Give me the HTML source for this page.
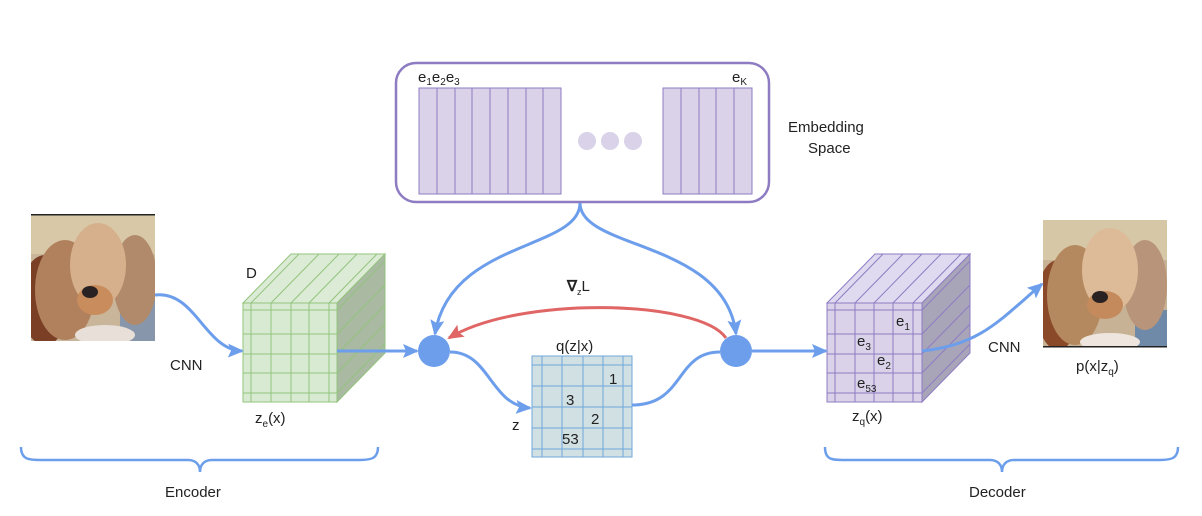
<!DOCTYPE html>
<html><head><meta charset="utf-8"><style>body{margin:0;background:#fff}svg{display:block}text{font-family:"Liberation Sans",Arial,sans-serif;fill:#222;font-size:15px}</style></head><body>
<svg width="1202" height="516" viewBox="0 0 1202 516" xmlns="http://www.w3.org/2000/svg">
<defs>
<marker id="ab" markerWidth="16" markerHeight="14" refX="14" refY="7" orient="auto" markerUnits="userSpaceOnUse"><path d="M0,0 L16,7 L0,14 L3,7 z" fill="#6d9eeb"/></marker>
<marker id="ar" markerWidth="16" markerHeight="14" refX="14" refY="7" orient="auto" markerUnits="userSpaceOnUse"><path d="M0,0 L16,7 L0,14 L3,7 z" fill="#e06666"/></marker>
<clipPath id="c1"><rect x="31" y="214" width="124" height="127"/></clipPath>
<clipPath id="c2"><rect x="1043" y="220" width="124" height="127"/></clipPath>
</defs>

<!-- Embedding box -->
<rect x="396" y="63" width="373" height="139" rx="20" fill="#fff" stroke="#8e7cc3" stroke-width="2.5"/>
<g fill="#d9d2e9" stroke="#8e7cc3" stroke-width="1">
<rect x="419" y="88" width="142" height="106"/>
<rect x="663" y="88" width="89" height="106"/>
</g>
<g stroke="#8e7cc3" stroke-width="1">
<line x1="437" y1="88" x2="437" y2="194"/><line x1="455" y1="88" x2="455" y2="194"/><line x1="472" y1="88" x2="472" y2="194"/><line x1="490" y1="88" x2="490" y2="194"/><line x1="508" y1="88" x2="508" y2="194"/><line x1="526" y1="88" x2="526" y2="194"/><line x1="543" y1="88" x2="543" y2="194"/>
<line x1="681" y1="88" x2="681" y2="194"/><line x1="699" y1="88" x2="699" y2="194"/><line x1="716" y1="88" x2="716" y2="194"/><line x1="734" y1="88" x2="734" y2="194"/>
</g>
<g fill="#d9d2e9"><circle cx="587" cy="141" r="9"/><circle cx="610" cy="141" r="9"/><circle cx="633" cy="141" r="9"/></g>
<text x="418" y="82" font-size="16">e<tspan font-size="10" dy="3">1</tspan><tspan dy="-3">e</tspan><tspan font-size="10" dy="3">2</tspan><tspan dy="-3">e</tspan><tspan font-size="10" dy="3">3</tspan></text>
<text x="732" y="82" font-size="16">e<tspan font-size="10" dy="3">K</tspan></text>
<text x="788" y="132">Embedding</text>
<text x="808" y="153">Space</text>

<!-- Dog left -->
<g clip-path="url(#c1)">
<rect x="31" y="214" width="124" height="127" fill="#c9b59a"/>
<rect x="31" y="214" width="124" height="40" fill="#d8c8a8"/>
<rect x="120" y="300" width="40" height="45" fill="#8796aa"/>
<ellipse cx="45" cy="300" rx="25" ry="45" fill="#7a3f25"/>
<ellipse cx="65" cy="290" rx="30" ry="50" fill="#b0815c"/>
<ellipse cx="135" cy="280" rx="22" ry="45" fill="#b08a6a"/>
<ellipse cx="98" cy="265" rx="28" ry="42" fill="#d6b08c"/>
<ellipse cx="95" cy="300" rx="18" ry="15" fill="#c98c5c"/>
<ellipse cx="90" cy="292" rx="8" ry="6" fill="#2a2222"/>
<ellipse cx="105" cy="335" rx="30" ry="10" fill="#e8e0d8"/>
</g>
<rect x="31" y="214" width="124" height="1.5" fill="#222"/>

<!-- Dog right -->
<g clip-path="url(#c2)">
<rect x="1043" y="220" width="124" height="127" fill="#c8b296"/>
<rect x="1043" y="220" width="124" height="40" fill="#d6c7a6"/>
<rect x="1135" y="310" width="40" height="40" fill="#6f8aa8"/>
<ellipse cx="1058" cy="305" rx="22" ry="45" fill="#8a4a2a"/>
<ellipse cx="1075" cy="295" rx="28" ry="50" fill="#b4895f"/>
<ellipse cx="1145" cy="285" rx="22" ry="45" fill="#b8957a"/>
<ellipse cx="1110" cy="270" rx="28" ry="42" fill="#ddbb98"/>
<ellipse cx="1105" cy="305" rx="18" ry="14" fill="#c48a5c"/>
<ellipse cx="1100" cy="297" rx="8" ry="6" fill="#2a2222"/>
<ellipse cx="1110" cy="342" rx="30" ry="9" fill="#eee6de"/>
</g>
<rect x="1043" y="346" width="124" height="1.5" fill="#222"/>

<!-- Green cube -->
<polygon points="243,303 291,254 385,254 337,303" fill="#dcebd5" stroke="#93c47d"/>
<polygon points="337,303 385,254 385,353 337,402" fill="#a9b9a2" stroke="#93c47d"/>
<rect x="243" y="303" width="94" height="99" fill="#d9ead3" stroke="#93c47d"/>
<g stroke="#93c47d" stroke-width="1">
<line x1="251" y1="303" x2="251" y2="402"/><line x1="271" y1="303" x2="271" y2="402"/><line x1="291" y1="303" x2="291" y2="402"/><line x1="309" y1="303" x2="309" y2="402"/><line x1="329" y1="303" x2="329" y2="402"/>
<line x1="243" y1="310" x2="337" y2="310"/><line x1="243" y1="334" x2="337" y2="334"/><line x1="243" y1="354" x2="337" y2="354"/><line x1="243" y1="373" x2="337" y2="373"/><line x1="243" y1="393" x2="337" y2="393"/>
<line x1="251" y1="303" x2="299" y2="254"/><line x1="271" y1="303" x2="319" y2="254"/><line x1="291" y1="303" x2="339" y2="254"/><line x1="309" y1="303" x2="357" y2="254"/><line x1="329" y1="303" x2="377" y2="254"/>
<line x1="337" y1="310" x2="385" y2="261"/><line x1="337" y1="334" x2="385" y2="285"/><line x1="337" y1="354" x2="385" y2="305"/><line x1="337" y1="373" x2="385" y2="324"/><line x1="337" y1="393" x2="385" y2="344"/>
</g>
<text x="246" y="278" font-size="16">D</text>
<text x="255" y="423" font-size="16">z<tspan font-size="10" dy="4">e</tspan><tspan dy="-4">(x)</tspan></text>

<!-- Purple cube -->
<polygon points="827,303 875,254 970,254 922,303" fill="#e0daf0" stroke="#8e7cc3"/>
<polygon points="922,303 970,254 970,353 922,402" fill="#a9a5b8" stroke="#8e7cc3"/>
<rect x="827" y="303" width="95" height="99" fill="#d9d2e9" stroke="#8e7cc3"/>
<g stroke="#8e7cc3" stroke-width="1">
<line x1="835" y1="303" x2="835" y2="402"/><line x1="855" y1="303" x2="855" y2="402"/><line x1="874" y1="303" x2="874" y2="402"/><line x1="893" y1="303" x2="893" y2="402"/><line x1="913" y1="303" x2="913" y2="402"/>
<line x1="827" y1="310" x2="922" y2="310"/><line x1="827" y1="334" x2="922" y2="334"/><line x1="827" y1="354" x2="922" y2="354"/><line x1="827" y1="373" x2="922" y2="373"/><line x1="827" y1="393" x2="922" y2="393"/>
<line x1="835" y1="303" x2="883" y2="254"/><line x1="855" y1="303" x2="903" y2="254"/><line x1="874" y1="303" x2="922" y2="254"/><line x1="893" y1="303" x2="941" y2="254"/><line x1="913" y1="303" x2="961" y2="254"/>
<line x1="922" y1="310" x2="970" y2="261"/><line x1="922" y1="334" x2="970" y2="285"/><line x1="922" y1="354" x2="970" y2="305"/><line x1="922" y1="373" x2="970" y2="324"/><line x1="922" y1="393" x2="970" y2="344"/>
</g>
<text x="896" y="326">e<tspan font-size="10" dy="4">1</tspan></text>
<text x="857" y="346">e<tspan font-size="10" dy="4">3</tspan></text>
<text x="877" y="365">e<tspan font-size="10" dy="4">2</tspan></text>
<text x="857" y="388">e<tspan font-size="10" dy="4">53</tspan></text>
<text x="852" y="421" font-size="16">z<tspan font-size="10" dy="4">q</tspan><tspan dy="-4">(x)</tspan></text>

<!-- q grid -->
<rect x="532" y="356" width="100" height="101" fill="#d0e0e3" stroke="#6fa8dc"/>
<g stroke="#6fa8dc" stroke-width="1">
<line x1="542" y1="356" x2="542" y2="457"/><line x1="562" y1="356" x2="562" y2="457"/><line x1="583" y1="356" x2="583" y2="457"/><line x1="603" y1="356" x2="603" y2="457"/><line x1="623" y1="356" x2="623" y2="457"/>
<line x1="532" y1="365" x2="632" y2="365"/><line x1="532" y1="386" x2="632" y2="386"/><line x1="532" y1="407" x2="632" y2="407"/><line x1="532" y1="428" x2="632" y2="428"/><line x1="532" y1="449" x2="632" y2="449"/>
</g>
<text x="556" y="351" font-size="16">q(z|x)</text>
<text x="609" y="384">1</text><text x="566" y="405">3</text><text x="591" y="424">2</text><text x="562" y="444">53</text>
<text x="512" y="430" font-size="16">z</text>

<!-- Circles -->
<circle cx="434" cy="351" r="16" fill="#6d9eeb"/>
<circle cx="736" cy="351" r="16" fill="#6d9eeb"/>

<!-- Connectors -->
<g fill="none" stroke="#6d9eeb" stroke-width="3">
<path d="M155,295 C195,290 205,350 242,351" marker-end="url(#ab)"/>
<path d="M337,351 L417,351" marker-end="url(#ab)"/>
<path d="M580,203 C580,250 450,240 435,334" marker-end="url(#ab)"/>
<path d="M580,203 C580,250 725,240 736,334" marker-end="url(#ab)"/>
<path d="M450,352 C490,352 490,405 530,408" marker-end="url(#ab)"/>
<path d="M632,405 C685,405 675,352 720,352"/>
<path d="M752,351 L826,351" marker-end="url(#ab)"/>
<path d="M922,351 C980,345 1000,320 1042,284" marker-end="url(#ab)"/>
<path d="M21,447 C21,460 30,460 40,460 L188,460 C196,460 200,465 200,472 C200,465 204,460 212,460 L360,460 C372,460 378,458 378,447" stroke-width="2.5"/>
<path d="M825,447 C825,460 832,460 845,460 L990,460 C998,460 1002,465 1002,472 C1002,465 1006,460 1014,460 L1160,460 C1172,460 1178,458 1178,447" stroke-width="2.5"/>
</g>
<path d="M726,338 C700,300 520,295 449,338" fill="none" stroke="#e06666" stroke-width="3" marker-end="url(#ar)"/>
<text x="567" y="291" font-weight="bold" font-size="16">∇<tspan font-size="9" dy="4" font-weight="normal">z</tspan><tspan dy="-4" font-weight="normal">L</tspan></text>

<text x="170" y="370" font-size="16">CNN</text>
<text x="988" y="352" font-size="16">CNN</text>
<text x="1076" y="371" font-size="16">p(x|z<tspan font-size="10" dy="4">q</tspan><tspan dy="-4">)</tspan></text>
<text x="165" y="497" font-size="16">Encoder</text>
<text x="969" y="497" font-size="16">Decoder</text>
</svg>
</body></html>
